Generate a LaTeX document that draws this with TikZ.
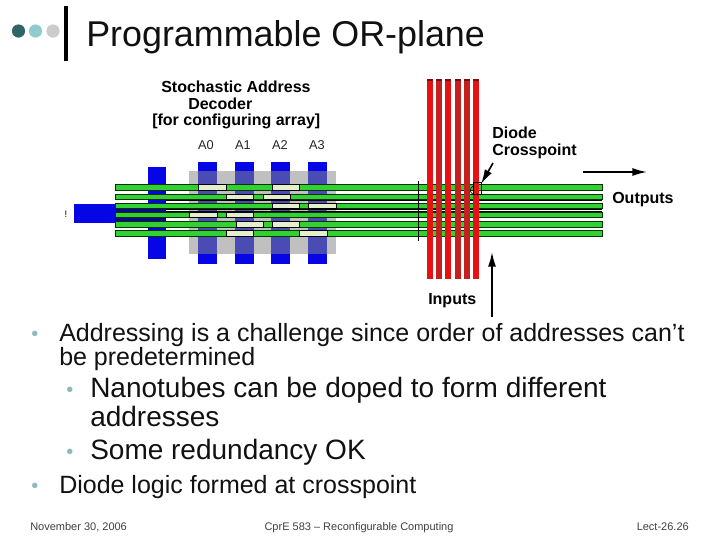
\documentclass[tikz,border=0pt]{standalone}
\usepackage{fontspec}
\setmainfont{Liberation Sans}
\definecolor{barblue}{HTML}{0505E6}
\definecolor{overblue}{HTML}{4B4BB4}
\definecolor{navy}{HTML}{0A0A90}
\definecolor{maskgray}{HTML}{C0C0C0}
\definecolor{wire}{HTML}{33D033}
\definecolor{pale}{HTML}{E4F0CC}
\definecolor{redA}{HTML}{E81010}
\definecolor{redB}{HTML}{C42020}
\definecolor{redtop}{HTML}{701010}
\definecolor{dotA}{HTML}{2F6468}
\definecolor{dotB}{HTML}{90CCCE}
\definecolor{dotC}{HTML}{CCCCCC}
\definecolor{slidetext}{HTML}{111111}
\definecolor{bulletc}{HTML}{8FB8BC}
\usetikzlibrary{arrows.meta}
\tikzset{
  x=0.75pt,y=-0.75pt,
  fig/.style={font=\fontsize{12pt}{13pt}\selectfont\bfseries,inner sep=0,anchor=base west,text=black},
  addr/.style={font=\fontsize{9.6pt}{11pt}\selectfont,inner sep=0,anchor=base,text=black!85},
  blue bar/.style={fill=barblue,draw=none},
  wire seg/.style={fill=wire,draw=black!80!green,line width=0.4pt},
  pale seg/.style={fill=pale,draw=black,line width=0.4pt},
  big/.style={font=\fontsize{18.75pt}{22pt}\selectfont,inner sep=0,anchor=base west,text=slidetext},
  sub/.style={font=\fontsize{21pt}{24pt}\selectfont,inner sep=0,anchor=base west,text=slidetext},
  foot/.style={font=\fontsize{8.25pt}{10pt}\selectfont,inner sep=0,anchor=base,text=black!75},
  bull/.style={font=\fontsize{15pt}{16pt}\selectfont,inner sep=0,anchor=base west,text=bulletc},
  arr/.style={-{Latex[length=11pt,width=6pt]},line width=1.2pt,black},
}
\begin{document}
\begin{tikzpicture}
\useasboundingbox (0,0) rectangle (720,540);
\fill[white] (0,0) rectangle (720,540);
% header
\fill[dotA] (18.5,31) circle (6.6);
\fill[dotB] (35.5,31) circle (6.6);
\fill[dotC] (53,31) circle (6.6);
\draw[line width=2.8pt,black] (66,6) -- (66,61);
\node[inner sep=0,anchor=base west,font=\fontsize{26.9pt}{30pt}\selectfont,text=slidetext] (title) at (86,46) {Programmable OR-plane};
% decoder bars
\fill[maskgray] (189,171) rectangle (336,254);
\fill[blue bar] (148,167) rectangle (166,259);
\foreach \x in {198,235,271,308}{
  \fill[blue bar] (\x,162) rectangle (\x+19,264);
  \fill[overblue] (\x,171) rectangle (\x+19,254);
}
\fill[blue bar] (74,204) rectangle (115,223);
\fill[navy] (115,204) rectangle (166,223);
% dark traces beside the middle wires
\fill[black] (166,199) rectangle (602,201);
\fill[black] (166,208) rectangle (602,210);
\fill[black] (166,210.8) rectangle (602,212.6);
% output wires
\foreach \y in {187.3,196.6,205.8,215,224.2,233.4}{
  \draw[wire seg] (115,\y-2.7) rectangle (602,\y+2.7);
}
\foreach \y/\a/\b in {187.3/198/226,187.3/272/299,
  196.6/226/253,196.6/263/290,
  205.8/272/299,205.8/308/336,
  215/189/217,215/226/253,
  224.2/236/263,224.2/272/299,
  233.4/226/253,233.4/299/327}{
  \draw[pale seg] (\a,\y-2.7) rectangle (\b,\y+2.7);
}
% red input wires
\draw[black,line width=0.5pt] (418,181) -- (418,241);
\foreach \x/\c in {427/redA,436/redB,445/redA,455/redB,464/redB,473/redA}{
  \fill[\c] (\x,79) rectangle (\x+6,279);
  \fill[redtop] (\x,79) rectangle (\x+6,81);
}
% crosspoint
\draw[black,line width=0.5pt] (473,182) rectangle (481,194);
\draw[black,line width=0.5pt] (473,186) .. controls (469,189) and (470,193) .. (473,194);
% labels
\node[fig] (stoch) at (161,92.5) {Stochastic Address};
\node[fig] (deco) at (188,109) {Decoder};
\node[fig] (cfg) at (152,125) {[for configuring array]};
\node[addr] (a0) at (206,149) {A0};
\node[addr] (a1) at (243,149) {A1};
\node[addr] (a2) at (280,149) {A2};
\node[addr] (a3) at (317,149) {A3};
\node[font=\fontsize{7pt}{8pt}\selectfont,inner sep=0] (bang) at (66,214) {!};
\node[fig] (diode) at (492,138) {Diode};
\node[fig] (cross) at (492,155) {Crosspoint};
\node[fig] (outs) at (612,203) {Outputs};
\node[fig] (ins) at (428,304) {Inputs};
% arrows
\coordinate (dtail) at (493,163); \coordinate (dhead) at (481,184);
\coordinate (otail) at (583,172); \coordinate (ohead) at (647,172);
\coordinate (itail) at (492,317); \coordinate (ihead) at (492,252);
\draw[arr] (dtail) -- (dhead);
\draw[arr] (otail) -- (ohead);
\draw[arr] (itail) -- (ihead);
% body text
\node[bull] (b1) at (31,340) {•};
\node[big] (t1) at (59,341.5) {Addressing is a challenge since order of addresses can’t};
\node[big] (t1b) at (59,365.5) {be predetermined};
\node[bull] (b2) at (66,396) {•};
\node[sub] (t2) at (90,397) {Nanotubes can be doped to form different};
\node[sub] (t2b) at (90,426) {addresses};
\node[bull] (b3) at (66,458) {•};
\node[sub] (t3) at (90,459) {Some redundancy OK};
\node[bull] (b4) at (31,492.5) {•};
\node[big] (t4) at (59,493.5) {Diode logic formed at crosspoint};
% footer
\node[foot,anchor=base west] (f1) at (30,530) {November 30, 2006};
\node[foot] (f2) at (359,530) {CprE 583 -- Reconfigurable Computing};
\node[foot,anchor=base east] (f3) at (689,530) {Lect-26.26};
\end{tikzpicture}
\end{document}
